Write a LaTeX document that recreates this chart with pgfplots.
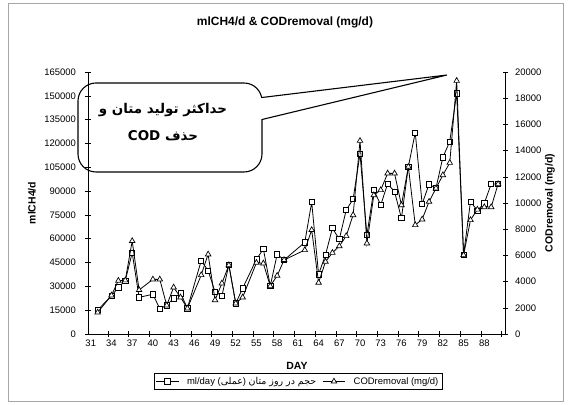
\documentclass[border=0pt]{standalone}
\usepackage{pgfplots}
\usepackage{pgfplotstable}
\pgfplotsset{compat=1.18}
\usepackage{fontspec}
\setmainfont{Liberation Sans}
\newfontfamily\arabicfont[Script=Arabic]{DejaVu Sans}
\TeXXeTstate=1

\pgfplotstableread{
day ml
32 15100
34 24000
35 29400
36 33600
37 51200
38 23100
40 25000
41 15900
42 18100
43 22500
44 25600
45 16200
47 46200
48 39900
49 26600
50 24100
51 43500
52 19300
53 28800
55 47000
56 53600
57 30200
58 50200
59 46600
62 57700
63 83000
64 37600
65 49800
66 66600
67 59700
68 78100
69 84900
70 113400
71 62400
72 90700
73 81300
74 94500
75 89700
76 72900
77 105400
78 126800
79 81900
80 94300
81 91800
82 111300
83 121200
84 151600
85 49800
86 83400
87 77800
88 82300
89 94500
90 94500
}\mltable

\pgfplotstableread{
day cod
32 1650
34 2950
35 4070
36 4100
37 7100
38 3360
40 4170
41 4170
42 2190
43 3560
44 2800
45 1960
47 4500
48 6080
49 2590
50 3870
51 5260
52 2340
53 2800
55 5440
56 5390
57 3660
58 4450
59 5650
62 6410
63 7940
64 3920
65 5520
66 6200
67 6710
68 7480
69 9080
70 14750
71 6920
72 10600
73 10990
74 12260
75 12260
76 9840
77 12770
78 8320
79 8750
80 10100
81 11120
82 12130
83 13070
84 19330
85 6030
86 8700
87 9500
88 9690
89 9690
90 11450
}\codtable

\pgfplotsset{
  mlstyle/.style={black, line width=0.8pt, mark=square*, mark size=2.6bp, mark options={fill=white, solid, line width=0.7pt}},
  codstyle/.style={black, line width=0.8pt, mark=triangle*, mark size=3.2bp, mark options={fill=white, solid, line width=0.7pt}},
  common/.style={
    at={(0,0)}, anchor=south west,
    scale only axis, width=417bp, height=262bp,
    xmin=30.6, xmax=91,
    tick align=center, major tick length=5bp,
    ticklabel style={font=\fontsize{9.5}{11}\selectfont},
    /pgf/number format/assume math mode=true,
    scaled y ticks=false,
    yticklabel style={/pgf/number format/fixed, /pgf/number format/1000 sep={}},
    axis line style={line width=0.6pt},
    tick style={line width=0.6pt, black},
  }
}

\begin{document}
\begin{tikzpicture}
\begin{axis}[common,
  ymin=0, ymax=165000,
  axis x line*=bottom, axis y line*=left,
  ytick={0,15000,...,165000},
  xtick={30.5,33.5,...,90.5}, xticklabels={},
  extra x ticks={31,34,...,88},
  extra x tick style={major tick length=0pt, xticklabel style={yshift=-2bp}},
  yticklabel style={xshift=-6bp},
]
\addplot[mlstyle] table[x=day, y=ml]{\mltable};
\end{axis}
\begin{axis}[common,
  ymin=0, ymax=20000,
  axis y line*=right, axis x line=none,
  ytick={0,2000,...,20000},
  yticklabel style={xshift=4bp},
  legend columns=2,
  legend style={at={(0.5036,-0.181)}, anchor=center, draw=black, line width=0.4pt,
    font=\fontsize{9.5}{11}\selectfont, inner sep=1.5bp,
    /tikz/every odd column/.append style={column sep=6bp},
    /tikz/every even column/.append style={column sep=4bp}},
  legend image post style={line width=0.8pt},
  legend image code/.code={\draw[mark repeat=2,mark phase=2] plot coordinates {(0cm,0cm) (0.4cm,0cm) (0.8cm,0cm)};},
]
\addlegendimage{mlstyle}
\addlegendentry{ml/day ({\arabicfont\beginR عملی\endR}) {\arabicfont\beginR حجم در روز متان\endR}}
\addplot[codstyle] table[x=day, y=cod]{\codtable};
\addlegendentry{CODremoval (mg/d)}
\end{axis}

% titles and axis labels
\node[font=\fontsize{12}{14}\selectfont\bfseries] at (197bp,312bp) {mlCH4/d \& CODremoval (mg/d)};
\node[font=\fontsize{10.5}{12}\selectfont\bfseries] at (209bp,-32bp) {DAY};
\node[font=\fontsize{10.5}{12}\selectfont\bfseries, rotate=90] at (-56bp,131bp) {mlCH4/d};
\node[font=\fontsize{10.5}{12}\selectfont\bfseries, rotate=90] at (462bp,131bp) {CODremoval (mg/d)};

% callout
\draw[line width=1.1pt, rounded corners=18bp] (-10bp,162bp) rectangle (174bp,251bp);
\fill[white] (172bp,215bp) rectangle (176bp,236bp);
\draw[line width=1.1pt] (174bp,236.5bp) -- (359bp,259bp) -- (174bp,214.5bp);
\node[font=\arabicfont\bfseries\fontsize{13.5}{16}\selectfont] at (75bp,224bp) {\beginR حداکثر تولید متان و\endR};
\node[font=\arabicfont\bfseries\fontsize{13.5}{16}\selectfont] at (75bp,198bp) {\beginR حذف \beginL COD\endL\endR};

% outer frame
\draw[gray!70, line width=0.4pt] (-80bp,-67bp) rectangle (475bp,331bp);
\path[use as bounding box] (-88bp,-71bp) rectangle (481bp,334bp);
\end{tikzpicture}
\end{document}
